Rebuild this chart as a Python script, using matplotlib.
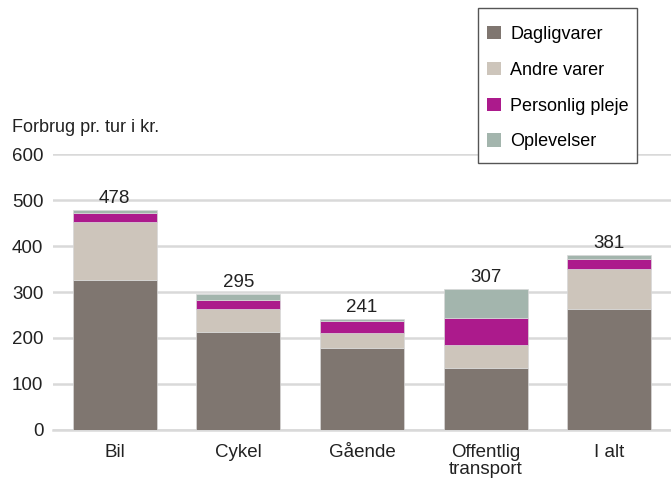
import matplotlib
matplotlib.use("Agg")
import matplotlib.pyplot as plt
from matplotlib import font_manager
from matplotlib.patches import Rectangle
import numpy as np

categories = ["Bil", "Cykel", "Gående", "Offentlig\ntransport", "I alt"]
dagligvarer = [326, 213, 178, 135, 264]
andre_varer = [127, 49, 32, 50, 86]
personlig_pleje = [19, 21, 28, 58, 21]
oplevelser = [6, 12, 3, 64, 10]
totals = [478, 295, 241, 307, 381]
series_names = ["Dagligvarer", "Andre varer", "Personlig pleje", "Oplevelser"]
colors = ["#7f7670", "#cdc5bb", "#ac1a8c", "#a3b5ad"]

names = {f.name for f in font_manager.fontManager.ttflist}
fam = "Liberation Sans Narrow" if "Liberation Sans Narrow" in names else "Liberation Sans"
plt.rcParams["font.family"] = [fam, "DejaVu Sans"]

W, H = 671, 480
fig = plt.figure(figsize=(W/100, H/100), dpi=100)
ax = fig.add_axes([53/W, 1-430/H, (W-53)/W, (430-154)/H])

x = np.arange(len(categories))
series = [dagligvarer, andre_varer, personlig_pleje, oplevelser]
bottom = np.zeros(len(categories))
handles = []
for vals, name, c in zip(series, series_names, colors):
    b = ax.bar(x, vals, bottom=bottom, width=0.68, color=c, label=name,
               edgecolor="#d8d8d8", linewidth=0.5, zorder=3)
    handles.append(b)
    bottom += np.array(vals)

for xi, t in zip(x, totals):
    ax.text(xi, t + 7, str(t), ha="center", va="bottom", fontsize=13.5, color="#222222")

ax.set_xlim(-0.5, len(categories) - 0.5)
ax.set_ylim(0, 600)
ax.set_yticks(range(0, 601, 100))
ax.yaxis.grid(True, color="#d9d9d9", linewidth=1.8, zorder=0)
ax.set_axisbelow(True)
for s in ["top", "right", "left"]:
    ax.spines[s].set_visible(False)
ax.spines["bottom"].set_color("#d9d9d9")
ax.spines["bottom"].set_linewidth(1.8)
ax.tick_params(axis="both", length=0, labelsize=13.5, colors="#222222")
ax.tick_params(axis="y", pad=7)
ax.tick_params(axis="x", pad=10)
ax.set_xticks(x)
ax.set_xticklabels(categories, linespacing=1.0)

fig.text(12/W, 1-127/H, "Forbrug pr. tur i kr.", fontsize=13, color="#222222",
         ha="left", va="center")

# legend frame drawn manually
fig.patches.append(Rectangle((478/W, 1-163/H), (637-478)/W, (163-8)/H,
                             transform=fig.transFigure, facecolor="white",
                             edgecolor="#555555", linewidth=1.0, zorder=5))
leg = fig.legend(handles=handles, labels=series_names, loc="upper left",
                 bbox_to_anchor=(487/W, 1-(33-7)/H), fontsize=13,
                 frameon=False, handlelength=0.75, handleheight=0.75,
                 labelspacing=1.04, borderpad=0, handletextpad=0.55,
                 borderaxespad=0)
leg.set_zorder(6)
for h in leg.legend_handles:
    h.set_edgecolor("none")

fig.savefig("out.png", dpi=100)
